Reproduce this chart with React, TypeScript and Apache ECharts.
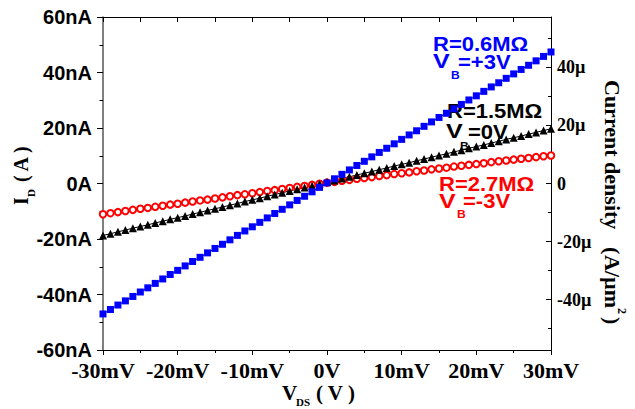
import React, { useEffect, useRef } from 'react';
import * as echarts from 'echarts';

const SERIF = '"Liberation Serif", "Times New Roman", serif';
const SANS = '"Liberation Sans", Arial, sans-serif';

// V_DS in mV
const xValues = [
  -30, -29, -28, -27, -26, -25, -24, -23, -22, -21,
  -20, -19, -18, -17, -16, -15, -14, -13, -12, -11,
  -10, -9, -8, -7, -6, -5, -4, -3, -2, -1,
  0,
  1, 2, 3, 4, 5, 6, 7, 8, 9, 10,
  11, 12, 13, 14, 15, 16, 17, 18, 19, 20,
  21, 22, 23, 24, 25, 26, 27, 28, 29, 30,
];

// I_D in nA, R=0.6MΩ, V_B=+3V
const blueI = [
  -47.0, -45.4, -43.8, -42.3, -40.7, -39.1, -37.6, -36.0, -34.4, -32.8,
  -31.3, -29.7, -28.1, -26.6, -25.0, -23.4, -21.9, -20.3, -18.7, -17.1,
  -15.6, -14.0, -12.4, -10.8, -9.3, -7.7, -6.1, -4.6, -3.0, -1.4,
  0.2,
  1.7, 3.3, 4.9, 6.5, 8.0, 9.6, 11.2, 12.7, 14.3, 15.9,
  17.5, 19.0, 20.6, 22.2, 23.8, 25.3, 26.9, 28.5, 30.1, 31.6,
  33.2, 34.8, 36.3, 37.9, 39.5, 41.1, 42.6, 44.2, 45.8, 47.4,
];

// I_D in nA, R=1.5MΩ, V_B=0V
const blackI = [
  -18.7, -18.1, -17.4, -16.8, -16.1, -15.5, -14.9, -14.2, -13.6, -12.9,
  -12.3, -11.7, -11.0, -10.4, -9.7, -9.1, -8.5, -7.8, -7.2, -6.5,
  -5.9, -5.3, -4.6, -4.0, -3.3, -2.7, -2.1, -1.4, -0.8, -0.1,
  0.5,
  1.1, 1.8, 2.4, 3.1, 3.7, 4.3, 5.0, 5.6, 6.3, 6.9,
  7.5, 8.2, 8.8, 9.5, 10.1, 10.7, 11.4, 12.0, 12.7, 13.3,
  13.9, 14.6, 15.2, 15.9, 16.5, 17.1, 17.8, 18.4, 19.1, 19.7,
];

// I_D in nA, R=2.7MΩ, V_B=-3V
const redI = [
  -11.1, -10.7, -10.3, -9.9, -9.5, -9.1, -8.8, -8.4, -8.0, -7.6,
  -7.3, -6.9, -6.5, -6.1, -5.8, -5.4, -5.0, -4.6, -4.2, -3.9,
  -3.5, -3.1, -2.7, -2.4, -2.0, -1.6, -1.2, -0.9, -0.5, -0.1,
  0.3,
  0.6, 1.0, 1.3, 1.7, 2.0, 2.3, 2.7, 3.0, 3.4, 3.7,
  4.0, 4.4, 4.7, 5.1, 5.4, 5.7, 6.1, 6.4, 6.7, 7.0,
  7.3, 7.7, 8.0, 8.3, 8.6, 8.9, 9.2, 9.5, 9.8, 10.1,
];

const rightMajor = [-40, -20, 0, 20, 40];
const rightMinor = [-50, -30, -10, 10, 30, 50];

function txt(text: string, x: number, y: number, size: number, color: string, family: string, scaleX = 1) {
  return {
    type: 'text',
    x,
    y,
    scaleX,
    style: {
      text,
      fill: color,
      font: `bold ${size}px ${family}`,
      align: 'left',
      verticalAlign: 'middle',
      textAlign: 'left',
      textVerticalAlign: 'middle',
    },
  };
}

export default function App() {
  const ref = useRef<HTMLDivElement>(null);
  useEffect(() => {
    document.body.style.margin = '0';
    const chart = echarts.init(ref.current!, null, { renderer: 'svg' });
    const pairs = (ys: number[]) => xValues.map((x, i) => [x, ys[i]]);
    const SX = 1.1;
    const VX = 1.25;
    const option: any = {
      animation: false,
      backgroundColor: '#fff',
      grid: { left: 103, right: 84, top: 17, bottom: 59 },
      xAxis: [
        {
          type: 'value',
          position: 'bottom',
          min: -30,
          max: 30,
          interval: 10,
          axisLine: { show: true, onZero: false, lineStyle: { color: '#000', width: 1 } },
          axisTick: { show: true, length: 5, lineStyle: { color: '#000' } },
          minorTick: { show: true, splitNumber: 2, length: 3, lineStyle: { color: '#000' } },
          splitLine: { show: false },
          minorSplitLine: { show: false },
          axisLabel: {
            formatter: (v: number) => (v === 0 ? '0V' : `${v}mV`),
            margin: 9,
            fontFamily: SERIF,
            fontWeight: 'bold',
            fontSize: 22,
            color: '#000',
          },
        },
        {
          type: 'value',
          position: 'top',
          min: -30,
          max: 30,
          interval: 5,
          axisLine: { show: true, onZero: false, lineStyle: { color: '#000', width: 1 } },
          axisTick: { show: true, inside: true, length: 5, lineStyle: { color: '#000' } },
          axisLabel: { show: false },
          splitLine: { show: false },
        },
      ],
      yAxis: [
        {
          type: 'value',
          position: 'left',
          min: -60,
          max: 60,
          interval: 20,
          axisLine: { show: true, onZero: false, lineStyle: { color: '#555', width: 1.5 } },
          axisTick: { show: true, length: 6, lineStyle: { color: '#000' } },
          minorTick: { show: true, splitNumber: 2, length: 3.5, lineStyle: { color: '#000' } },
          splitLine: { show: false },
          minorSplitLine: { show: false },
          axisLabel: {
            formatter: (v: number) => (v === 0 ? '0A' : `${v}nA`),
            margin: 11,
            fontFamily: SANS,
            fontWeight: 'bold',
            fontSize: 20,
            color: '#000',
          },
        },
        {
          type: 'value',
          position: 'right',
          min: -57.4,
          max: 57.4,
          axisLine: { show: true, onZero: false, lineStyle: { color: '#000', width: 1 } },
          axisTick: { show: true, inside: true, length: 5, customValues: rightMajor, lineStyle: { color: '#000' } },
          splitLine: { show: false },
          axisLabel: {
            customValues: rightMajor,
            formatter: (v: number) => (v === 0 ? '0' : `${v}µ`),
            margin: 6,
            fontFamily: SERIF,
            fontWeight: 'bold',
            fontSize: 18,
            color: '#000',
          },
        },
        {
          type: 'value',
          position: 'right',
          min: -57.4,
          max: 57.4,
          axisLine: { show: false, onZero: false },
          axisTick: { show: true, inside: true, length: 3, customValues: rightMinor, lineStyle: { color: '#000' } },
          splitLine: { show: false },
          axisLabel: { show: false },
        },
      ],
      series: [
        {
          type: 'line',
          name: 'R=2.7MΩ',
          data: pairs(redI),
          symbol: 'emptyCircle',
          symbolSize: 6.5,
          lineStyle: { color: '#ff0000', width: 1 },
          itemStyle: { color: '#ff0000', borderColor: '#ff0000', borderWidth: 0.8 },
        },
        {
          type: 'line',
          name: 'R=1.5MΩ',
          data: pairs(blackI),
          symbol: 'triangle',
          symbolSize: 8,
          lineStyle: { color: '#000', width: 1 },
          itemStyle: { color: '#000' },
        },
        {
          type: 'line',
          name: 'R=0.6MΩ',
          data: pairs(blueI),
          symbol: 'rect',
          symbolSize: 7,
          lineStyle: { color: '#0000ff', width: 1 },
          itemStyle: { color: '#0000ff' },
        },
      ],
      graphic: [
        // annotations
        txt('R=0.6MΩ', 433, 44, 20, '#0000ff', SANS, SX),
        txt('V', 433, 61.5, 20, '#0000ff', SANS, VX),
        txt('B', 451, 75, 11, '#0000ff', SANS, SX),
        txt('=+3V', 458, 61.5, 20, '#0000ff', SANS, SX),

        txt('R=1.5MΩ', 447, 110.5, 20, '#000', SANS, SX),
        txt('V', 446, 131.5, 20, '#000', SANS, VX),
        txt('B', 460, 146, 11, '#000', SANS, SX),
        txt('=0V', 468, 131.5, 20, '#000', SANS, SX),

        txt('R=2.7MΩ', 439, 183.5, 20, '#ff0000', SANS, SX),
        txt('V', 439, 201, 20, '#ff0000', SANS, VX),
        txt('B', 457, 214, 11, '#ff0000', SANS, SX),
        txt('=-3V', 463, 201, 20, '#ff0000', SANS, SX),

        // bottom title
        txt('V', 282, 392.5, 21, '#000', SERIF),
        txt('DS', 296, 402, 11, '#000', SERIF),
        txt('( V )', 316, 392.5, 21, '#000', SERIF),

        // left title
        {
          type: 'group',
          x: 20.5,
          y: 205,
          rotation: Math.PI / 2,
          children: [
            txt('I', 0, 0, 20, '#000', SERIF),
            txt('D', 8, 10, 11, '#000', SERIF),
            txt('( A )', 23, 0, 20, '#000', SERIF),
          ],
        },
        // right title
        {
          type: 'group',
          x: 612,
          y: 80,
          rotation: -Math.PI / 2,
          children: [
            txt('Current density', 0, 0, 22, '#000', SERIF),
            txt('(', 167, 0, 22, '#000', SERIF),
            txt('A/µm', 175, 0, 22, '#000', SERIF),
            txt('2', 228, -10, 12, '#000', SERIF),
            txt(')', 237, 0, 22, '#000', SERIF),
          ],
        },
      ],
    };
    chart.setOption(option);
    return () => chart.dispose();
  }, []);
  return <div ref={ref} style={{ position: 'fixed', left: 0, top: 0, width: 635, height: 409 }} />;
}
